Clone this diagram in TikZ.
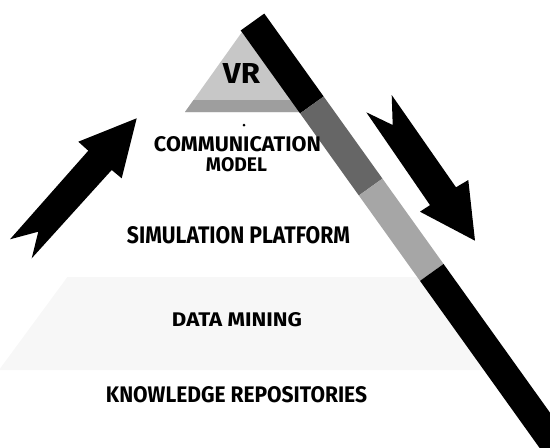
\documentclass[tikz,border=0pt]{standalone}
\usepackage{fontspec}
\setmainfont{Fira Sans}
\newcommand{\capsbox}[3]{\resizebox{#1pt}{#2pt}{\bfseries #3}}
\tikzset{lbl/.style={inner sep=0pt, anchor=center}}

\begin{document}
\begin{tikzpicture}[x=1pt,y=-1pt]
    \useasboundingbox (0,0) rectangle (550,448);
    \clip (0,0) rectangle (550,448);

    % faint layer and VR top
    \fill[black!3] (67.4,277) -- (-1,370) -- (488.4,370) -- (420.6,277) -- cycle;
    \fill[black!22] (242,32) -- (185,112) -- (300,112) -- cycle;
    \fill[black!38] (193.6,100) -- (185,112) -- (300,112) -- (291.6,100) -- cycle;

    % band on the right side
    \begin{scope}[shift={(252.5,22)}, rotate=-54.4]
        \fill[black] (0,-14.5) rectangle (102,14.5);
        \fill[black!60] (102,-14.5) rectangle (203,14.5);
        \fill[black!35] (203,-14.5) rectangle (308,14.5);
        \fill[black] (308,-14.5) rectangle (700,14.5);
    \end{scope}

    % arrows
    \fill[black] (136.7,118.3) -- (78.3,141.7) -- (88.3,150.7) -- (10,239.3) -- (38.3,231.7) -- (31.7,258.3) -- (111.7,170) -- (121.7,178.3) -- cycle;
    \fill[black] (366.3,112.3) -- (392.7,125) -- (391.7,95) -- (456,187.3) -- (468.3,180) -- (475,240.7) -- (420,211.7) -- (430,205.1) -- cycle;

    \fill (244,125) circle (1.5);

    \node[lbl] (vr) at (241.5,73) {\capsbox{37}{20}{VR}};
    \node[lbl] (comm) at (237.5,144.5) {\capsbox{167}{15}{COMMUNICATION}};
    \node[lbl] (model) at (236.5,165) {\capsbox{61}{14}{MODEL}};
    \node[lbl] (sim) at (238.5,235.5) {\capsbox{223}{17}{SIMULATION PLATFORM}};
    \node[lbl] (mining) at (237,320) {\capsbox{130}{14}{DATA MINING}};
    \node[lbl] (repo) at (236.5,395) {\capsbox{261}{16}{KNOWLEDGE REPOSITORIES}};
\end{tikzpicture}
\end{document}
